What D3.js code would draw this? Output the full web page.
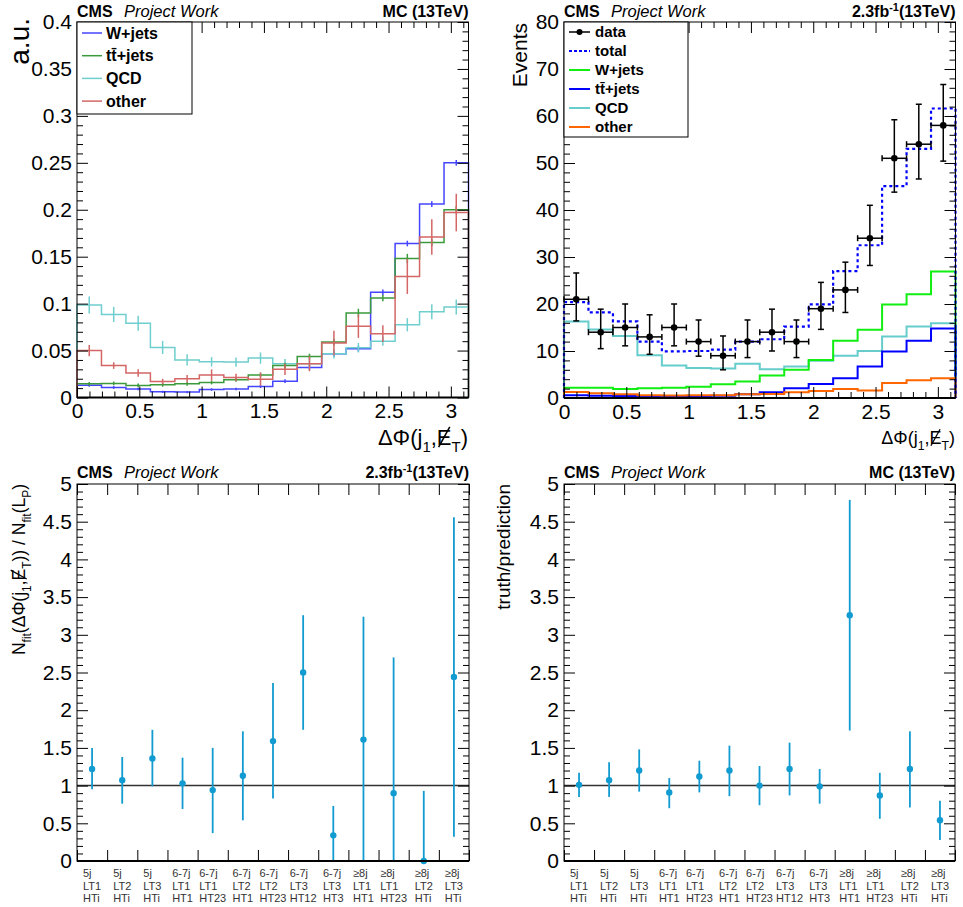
<!DOCTYPE html>
<html>
<head>
<meta charset="utf-8">
<script src="https://cdnjs.cloudflare.com/ajax/libs/d3/7.8.5/d3.min.js"></script>
<style>
  body { margin: 0; background: #fff; }
  svg text { font-family: "Liberation Sans", Arial, Helvetica, sans-serif; }
</style>
</head>
<body>
<div id="chart"></div>
<script>
// ---------- data ----------
var phiBins = 16;
var phiMax = Math.PI;

// top left: normalised shapes (a.u.)
var shapeWjets = [0.013, 0.0107, 0.009, 0.006, 0.0058, 0.0085, 0.009, 0.0117, 0.0174, 0.032, 0.0466, 0.052, 0.112, 0.164, 0.206, 0.250];
var shapeWjetsErr = [0.0015, 0.0015, 0.0013, 0.0012, 0.0012, 0.0013, 0.0013, 0.0015, 0.002, 0.0025, 0.003, 0.003, 0.003, 0.003, 0.003, 0.003];
var shapeTT = [0.0146, 0.015, 0.0128, 0.0135, 0.0146, 0.016, 0.019, 0.024, 0.034, 0.0437, 0.059, 0.090, 0.106, 0.148, 0.165, 0.200];
var shapeTTErr = [0.002, 0.002, 0.002, 0.002, 0.002, 0.002, 0.0022, 0.0025, 0.003, 0.003, 0.0035, 0.0045, 0.0035, 0.005, 0.004, 0.004];
var shapeQCD = [0.0985, 0.0885, 0.079, 0.0533, 0.040, 0.038, 0.0377, 0.042, 0.036, 0.036, 0.0466, 0.053, 0.060, 0.0775, 0.0914, 0.0963];
var shapeQCDErr = [0.009, 0.008, 0.008, 0.007, 0.006, 0.005, 0.005, 0.006, 0.005, 0.005, 0.005, 0.005, 0.005, 0.007, 0.008, 0.008];
var shapeOther = [0.050, 0.034, 0.026, 0.017, 0.020, 0.024, 0.0213, 0.0195, 0.030, 0.036, 0.058, 0.076, 0.068, 0.129, 0.171, 0.197];
var shapeOtherErr = [0.006, 0.0035, 0.004, 0.003, 0.004, 0.006, 0.004, 0.007, 0.006, 0.008, 0.013, 0.0125, 0.009, 0.0187, 0.019, 0.02];

// top right: events
var dataCounts = [21, 14, 15, 13, 15, 12, 9, 12, 14, 12, 19, 23, 34, 51, 54, 58];
var dataUp = [26.6, 18.9, 20.0, 17.7, 20.0, 16.6, 13.2, 16.6, 18.9, 16.6, 24.6, 28.9, 41.0, 59.2, 62.5, 66.7];
var dataDown = [16.4, 10.5, 11.1, 9.3, 11.1, 8.9, 6.0, 8.6, 10.0, 8.6, 14.6, 18.2, 28.2, 43.8, 46.6, 50.4];
var fitTotal = [20.4, 18.2, 16.3, 12.0, 9.9, 10.0, 10.3, 12.0, 12.5, 15.2, 19.9, 27.0, 32.5, 45.1, 53.0, 61.6];
var fitWjets = [2.2, 2.2, 1.9, 2.1, 2.2, 2.4, 2.9, 3.5, 4.8, 6.0, 8.1, 12.2, 14.5, 19.9, 22.1, 26.9];
var fitTT = [0.6, 0.5, 0.4, 0.35, 0.35, 0.4, 0.5, 0.8, 1.2, 2.1, 3.0, 4.2, 6.7, 9.9, 12.2, 14.8];
var fitQCD = [16.3, 14.6, 13.2, 9.1, 6.9, 6.4, 6.3, 7.3, 6.1, 6.7, 7.9, 9.0, 10.0, 13.1, 15.2, 15.9];
var fitOther = [1.3, 1.0, 0.8, 0.6, 0.55, 0.6, 0.6, 0.8, 0.85, 1.2, 1.5, 1.9, 1.6, 3.2, 3.8, 4.2];

// bottom: search bins
var binJets = ["5j", "5j", "5j", "6-7j", "6-7j", "6-7j", "6-7j", "6-7j", "6-7j", "\u22658j", "\u22658j", "\u22658j", "\u22658j"];
var binLT = ["LT1", "LT2", "LT3", "LT1", "LT1", "LT2", "LT2", "LT3", "LT3", "LT1", "LT1", "LT2", "LT3"];
var binHT = ["HTi", "HTi", "HTi", "HT1", "HT23", "HT1", "HT23", "HT12", "HT3", "HT1", "HT23", "HTi", "HTi"];

var ratioFit = [1.22, 1.07, 1.36, 1.03, 0.94, 1.13, 1.59, 2.50, 0.34, 1.61, 0.90, 0.0, 2.44];
var ratioFitUp = [1.50, 1.38, 1.74, 1.37, 1.50, 1.72, 2.36, 3.26, 0.73, 3.24, 2.70, 0.93, 4.56];
var ratioFitDown = [0.95, 0.76, 0.99, 0.69, 0.37, 0.54, 0.83, 1.74, 0, 0, 0, 0, 0.32];

var ratioMC = [1.01, 1.07, 1.20, 0.91, 1.12, 1.20, 1.00, 1.22, 0.99, 3.26, 0.87, 1.22, 0.54];
var ratioMCUp = [1.17, 1.31, 1.48, 1.10, 1.33, 1.53, 1.26, 1.57, 1.22, 4.79, 1.17, 1.72, 0.80];
var ratioMCDown = [0.85, 0.85, 0.92, 0.70, 0.91, 0.86, 0.74, 0.87, 0.76, 1.73, 0.56, 0.71, 0.28];

// ---------- page ----------
var width = 963, height = 907;
var svg = d3.select("#chart").append("svg")
  .attr("width", width)
  .attr("height", height);

var fontSizeTick = 21;
var pointColor = "#119bd0";
var ttName = "tt\u0304+jets";

function makePanel(box, xDomain, yDomain) {
  var g = svg.append("g");
  var x = d3.scaleLinear().domain(xDomain).range([box.l, box.r]);
  var y = d3.scaleLinear().domain(yDomain).range([box.b, box.t]);
  return { g: g, x: x, y: y, box: box };
}

function cleanAxis(sel) {
  sel.attr("font-size", null).attr("font-family", null);
  sel.select(".domain").remove();
  sel.selectAll("line").attr("stroke", "#000");
}

function niceRange(lo, hi, step) {
  var n = Math.round((hi - lo) / step);
  return d3.range(n + 1).map(function(i) { return +(lo + i * step).toFixed(6); });
}

function isMultiple(v, step) {
  return Math.abs(v / step - Math.round(v / step)) < 1e-6;
}

function yAxes(p, major, minorStep, fmt) {
  var dom = p.y.domain();
  var minor = niceRange(dom[0], dom[1], minorStep).filter(function(v) { return !isMultiple(v, major[1] - major[0]); });
  p.g.append("g").attr("transform", "translate(" + p.box.l + ",0)")
    .call(d3.axisLeft(p.y).tickValues(major).tickSize(-11).tickPadding(5).tickFormat(fmt))
    .call(cleanAxis)
    .selectAll("text").attr("font-size", fontSizeTick).attr("fill", "#000");
  p.g.append("g").attr("transform", "translate(" + p.box.l + ",0)")
    .call(d3.axisLeft(p.y).tickValues(minor).tickSize(-6).tickFormat(""))
    .call(cleanAxis);
  p.g.append("g").attr("transform", "translate(" + p.box.r + ",0)")
    .call(d3.axisRight(p.y).tickValues(major).tickSize(-11).tickFormat(""))
    .call(cleanAxis);
  p.g.append("g").attr("transform", "translate(" + p.box.r + ",0)")
    .call(d3.axisRight(p.y).tickValues(minor).tickSize(-6).tickFormat(""))
    .call(cleanAxis);
}

function phiAxes(p) {
  var major = niceRange(0, 3, 0.5);
  var minor = niceRange(0, 3.1, 0.1).filter(function(v) { return !isMultiple(v, 0.5); });
  var fmt = d3.format(".1~f");
  p.g.append("g").attr("transform", "translate(0," + p.box.b + ")")
    .call(d3.axisBottom(p.x).tickValues(major).tickSize(-11).tickPadding(6).tickFormat(fmt))
    .call(cleanAxis)
    .selectAll("text").attr("font-size", fontSizeTick).attr("fill", "#000");
  p.g.append("g").attr("transform", "translate(0," + p.box.b + ")")
    .call(d3.axisBottom(p.x).tickValues(minor).tickSize(-6).tickFormat(""))
    .call(cleanAxis);
  p.g.append("g").attr("transform", "translate(0," + p.box.t + ")")
    .call(d3.axisTop(p.x).tickValues(major).tickSize(-11).tickFormat(""))
    .call(cleanAxis);
  p.g.append("g").attr("transform", "translate(0," + p.box.t + ")")
    .call(d3.axisTop(p.x).tickValues(minor).tickSize(-6).tickFormat(""))
    .call(cleanAxis);
}

function binAxes(p) {
  var edges = d3.range(binJets.length + 1);
  p.g.append("g").attr("transform", "translate(0," + p.box.b + ")")
    .call(d3.axisBottom(p.x).tickValues(edges).tickSize(-11).tickFormat(""))
    .call(cleanAxis);
  p.g.append("g").attr("transform", "translate(0," + p.box.t + ")")
    .call(d3.axisTop(p.x).tickValues(edges).tickSize(-11).tickFormat(""))
    .call(cleanAxis);

  var lbl = p.g.append("g").attr("fill", "#333").attr("font-size", 11);
  binJets.forEach(function(j, i) {
    var grp = lbl.append("g");
    var lines = [j, binLT[i], binHT[i]];
    var w = 0;
    lines.forEach(function(s, k) {
      var t = grp.append("text").attr("x", 0).attr("y", 877 + k * 12.5).text(s);
      w = Math.max(w, t.node().getComputedTextLength());
    });
    grp.attr("transform", "translate(" + (p.x(i + 0.5) - w / 2) + ",0)");
  });
}

function frame(p, lw) {
  p.g.append("rect")
    .attr("x", p.box.l).attr("y", p.box.t)
    .attr("width", p.box.r - p.box.l).attr("height", p.box.b - p.box.t)
    .attr("fill", "none").attr("stroke", "#000").attr("stroke-width", lw || 1);
  p.g.append("line")
    .attr("x1", p.box.l).attr("x2", p.box.r)
    .attr("y1", p.box.b).attr("y2", p.box.b)
    .attr("stroke", "#000").attr("stroke-width", 2);
}

// rich text inside group g: parts = [[text, "sub"|"sup"|"slash"|null], ...]
// "slash" letters get a struck-through line drawn over them
function richText(g, x, y, anchor, parts, size, weight) {
  var sel = g.append("text").attr("x", x).attr("y", y).attr("text-anchor", anchor);
  if (weight) sel.attr("font-weight", weight);
  var shift = 0;
  var slashed = [];
  parts.forEach(function(pt) {
    var kind = pt[1];
    var target = kind === "sub" ? size * 0.32 : kind === "sup" ? -size * 0.4 : 0;
    var fs = (kind === "sub" || kind === "sup") ? size * 0.68 : size;
    var t = sel.append("tspan")
      .attr("dy", target - shift)
      .attr("font-size", fs)
      .text(pt[0]);
    shift = target;
    if (kind === "slash") slashed.push(t);
  });
  slashed.forEach(function(t) {
    var b = t.node().getBBox();
    var base = y;
    g.append("line")
      .attr("x1", b.x + b.width * 0.12).attr("y1", base + size * 0.1)
      .attr("x2", b.x + b.width * 0.88).attr("y2", base - size * 0.82)
      .attr("stroke", "#000").attr("stroke-width", size * 0.07);
  });
  return sel;
}

function header(p, baseline, rightParts) {
  p.g.append("text").attr("x", p.box.l).attr("y", baseline)
    .attr("font-size", 16).attr("font-weight", "bold").text("CMS");
  p.g.append("text").attr("x", p.box.l + 47).attr("y", baseline)
    .attr("font-size", 16.5).attr("font-style", "italic").text("Project Work");
  richText(p.g, p.box.r, baseline, "end", rightParts, 16, "bold");
}

var phiTitle = [["\u0394\u03a6(j", null], ["1", "sub"], [",", null], ["E", "slash"], ["T", "sub"], [")", null]];
var mcLabel = [["MC (13TeV)", null]];
var lumiLabel = [["2.3fb", null], ["-1", "sup"], ["(13TeV)", null]];

function stepLine(p) {
  return d3.line()
    .x(function(d) { return p.x(d[0]); })
    .y(function(d) { return p.y(d[1]); })
    .curve(d3.curveStepAfter);
}

function histPoints(vals) {
  var w = phiMax / phiBins;
  var pts = [[0, 0]];
  vals.forEach(function(v, i) { pts.push([i * w, v]); });
  pts.push([phiMax, vals[vals.length - 1]]);
  pts.push([phiMax, 0]);
  return pts;
}

// ---------- top left ----------
var tl = makePanel({ l: 77, r: 468.5, t: 22, b: 397.5 }, [0, phiMax], [0, 0.4]);
var shapes = [
  { name: "W+jets", vals: shapeWjets, err: shapeWjetsErr, color: "#4545ff" },
  { name: ttName, vals: shapeTT, err: shapeTTErr, color: "#3b9a3b" },
  { name: "QCD", vals: shapeQCD, err: shapeQCDErr, color: "#6fcece" },
  { name: "other", vals: shapeOther, err: shapeOtherErr, color: "#d46666" }
];
var drawOrder = [0, 2, 1, 3];
drawOrder.forEach(function(k) {
  var s = shapes[k];
  tl.g.append("path")
    .attr("d", stepLine(tl)(histPoints(s.vals)))
    .attr("fill", "none").attr("stroke", s.color).attr("stroke-width", 1.5);
  tl.g.append("g").selectAll("line").data(s.vals).enter().append("line")
    .attr("x1", function(d, i) { return tl.x((i + 0.5) * phiMax / phiBins); })
    .attr("x2", function(d, i) { return tl.x((i + 0.5) * phiMax / phiBins); })
    .attr("y1", function(d, i) { return tl.y(d - s.err[i]); })
    .attr("y2", function(d, i) { return tl.y(d + s.err[i]); })
    .attr("stroke", s.color).attr("stroke-width", 1.5);
});
frame(tl, 1);
yAxes(tl, niceRange(0, 0.4, 0.05), 0.01, d3.format(".2~f"));
phiAxes(tl);

var leg1 = tl.g.append("g");
leg1.append("rect").attr("x", 77).attr("y", 22).attr("width", 115).attr("height", 92)
  .attr("fill", "#fff").attr("stroke", "#000").attr("stroke-width", 1);
shapes.forEach(function(s, i) {
  var yy = 33 + i * 22.7;
  leg1.append("line").attr("x1", 82).attr("x2", 102).attr("y1", yy).attr("y2", yy)
    .attr("stroke", s.color).attr("stroke-width", 1.5);
  leg1.append("text").attr("x", 106).attr("y", yy).attr("dy", "0.36em")
    .attr("font-size", 16).attr("font-weight", "bold").text(s.name);
});

tl.g.append("text")
  .attr("transform", "translate(29,18) rotate(-90)")
  .attr("text-anchor", "end").attr("font-size", 28).text("a.u.");
richText(tl.g, 468, 445, "end", phiTitle, 22);
header(tl, 17, mcLabel);

// ---------- top right ----------
var tr = makePanel({ l: 564, r: 955.5, t: 22, b: 398 }, [0, phiMax], [0, 80]);
var comps = [
  { name: "QCD", vals: fitQCD, color: "#66cccc" },
  { name: "W+jets", vals: fitWjets, color: "#11ee11" },
  { name: ttName, vals: fitTT, color: "#0000ff" },
  { name: "other", vals: fitOther, color: "#ff6600" }
];
comps.forEach(function(c) {
  tr.g.append("path")
    .attr("d", stepLine(tr)(histPoints(c.vals)))
    .attr("fill", "none").attr("stroke", c.color).attr("stroke-width", 2);
});
tr.g.append("path")
  .attr("d", stepLine(tr)(histPoints(fitTotal)))
  .attr("fill", "none").attr("stroke", "#0000ff").attr("stroke-width", 2.2)
  .attr("stroke-dasharray", "3,3");

var half = phiMax / phiBins / 2;
var dataG = tr.g.append("g").attr("stroke", "#000").attr("stroke-width", 1.5);
dataCounts.forEach(function(v, i) {
  var c = (2 * i + 1) * half;
  var cx = tr.x(c), cy = tr.y(v);
  var x0 = tr.x(c - half), x1 = tr.x(c + half);
  var yTop = tr.y(dataUp[i]), yBot = tr.y(dataDown[i]);
  dataG.append("line").attr("x1", x0).attr("x2", x1).attr("y1", cy).attr("y2", cy);
  dataG.append("line").attr("x1", cx).attr("x2", cx).attr("y1", yTop).attr("y2", yBot);
  dataG.append("line").attr("x1", cx - 3).attr("x2", cx + 3).attr("y1", yTop).attr("y2", yTop);
  dataG.append("line").attr("x1", cx - 3).attr("x2", cx + 3).attr("y1", yBot).attr("y2", yBot);
  dataG.append("line").attr("x1", x0).attr("x2", x0).attr("y1", cy - 3).attr("y2", cy + 3);
  dataG.append("line").attr("x1", x1).attr("x2", x1).attr("y1", cy - 3).attr("y2", cy + 3);
  dataG.append("circle").attr("cx", cx).attr("cy", cy).attr("r", 3.3).attr("fill", "#000").attr("stroke", "none");
});
frame(tr, 1);
yAxes(tr, niceRange(0, 80, 10), 2, d3.format("d"));
phiAxes(tr);

var leg2 = tr.g.append("g");
leg2.append("rect").attr("x", 564).attr("y", 22).attr("width", 124).attr("height", 115)
  .attr("fill", "#fff").attr("stroke", "#000").attr("stroke-width", 1);
var leg2Items = [
  { name: "data", color: "#000", kind: "data" },
  { name: "total", color: "#0000ff", kind: "dash" },
  { name: "W+jets", color: "#11ee11" },
  { name: ttName, color: "#0000ff" },
  { name: "QCD", color: "#66cccc" },
  { name: "other", color: "#ff6600" }
];
leg2Items.forEach(function(it, i) {
  var yy = 32 + i * 19;
  var ln = leg2.append("line").attr("x1", 569).attr("x2", 590).attr("y1", yy).attr("y2", yy)
    .attr("stroke", it.color).attr("stroke-width", it.kind === "data" ? 1.5 : 2);
  if (it.kind === "dash") ln.attr("stroke-dasharray", "3,2");
  if (it.kind === "data") leg2.append("circle").attr("cx", 579.5).attr("cy", yy).attr("r", 3).attr("fill", "#000");
  leg2.append("text").attr("x", 595).attr("y", yy).attr("dy", "0.36em")
    .attr("font-size", 15).attr("font-weight", "bold").text(it.name);
});

tr.g.append("text")
  .attr("transform", "translate(527,23) rotate(-90)")
  .attr("text-anchor", "end").attr("font-size", 21).text("Events");
richText(tr.g, 955, 444, "end", phiTitle, 18);
header(tr, 17, lumiLabel);

// ---------- bottom panels ----------
function ratioPanel(box, vals, up, down) {
  var p = makePanel(box, [0, binJets.length], [0, 5]);
  p.g.append("line")
    .attr("x1", box.l).attr("x2", box.r)
    .attr("y1", p.y(1)).attr("y2", p.y(1))
    .attr("stroke", "#333").attr("stroke-width", 1.5);
  var pts = p.g.append("g");
  pts.selectAll("line").data(vals).enter().append("line")
    .attr("x1", function(d, i) { return p.x(i + 0.5); })
    .attr("x2", function(d, i) { return p.x(i + 0.5); })
    .attr("y1", function(d, i) { return p.y(up[i]); })
    .attr("y2", function(d, i) { return p.y(down[i]); })
    .attr("stroke", pointColor).attr("stroke-width", 1.8);
  pts.selectAll("circle").data(vals).enter().append("circle")
    .attr("cx", function(d, i) { return p.x(i + 0.5); })
    .attr("cy", function(d) { return p.y(d); })
    .attr("r", 3.2).attr("fill", pointColor);
  frame(p, 1);
  yAxes(p, niceRange(0, 5, 0.5), 0.1, d3.format("~g"));
  binAxes(p);
  return p;
}

var bl = ratioPanel({ l: 77, r: 469, t: 484, b: 861 }, ratioFit, ratioFitUp, ratioFitDown);
var blTitle = bl.g.append("g").attr("transform", "translate(25,484) rotate(-90)");
richText(blTitle, 0, 0, "end", [["N", null], ["fit", "sub"], ["(\u0394\u03a6(j", null], ["1", "sub"], [",", null], ["E", "slash"], ["T", "sub"],
  [")) / N", null], ["fit", "sub"], ["(L", null], ["P", "sub"], [")", null]], 17.5);
header(bl, 478, lumiLabel);

var br = ratioPanel({ l: 564, r: 955, t: 484, b: 861 }, ratioMC, ratioMCUp, ratioMCDown);
br.g.append("text")
  .attr("transform", "translate(510,484) rotate(-90)")
  .attr("text-anchor", "end").attr("font-size", 19).text("truth/prediction");
header(br, 478, mcLabel);
</script>
</body>
</html>
